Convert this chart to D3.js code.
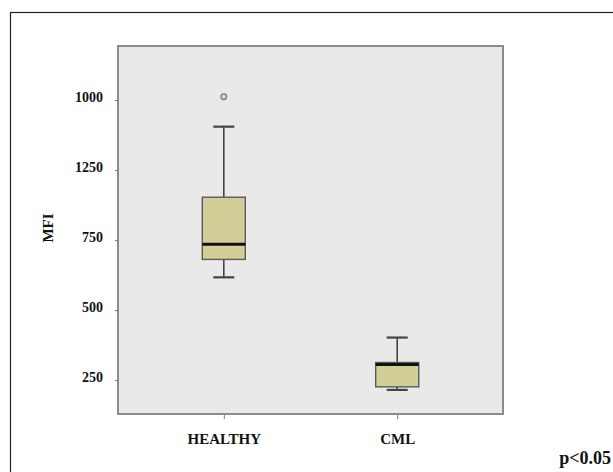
<!DOCTYPE html>
<html>
<head>
<meta charset="utf-8">
<script src="https://cdn.jsdelivr.net/npm/d3@7"></script>
<style>
  body { margin: 0; background: #fff; }
  text { font-family: "Liberation Serif", "DejaVu Serif", serif; font-weight: bold; fill: #111; }
</style>
</head>
<body>
<div id="chart"></div>
<script>
// groups and box summaries (MFI)
var groups = ["HEALTHY", "CML"];
var lowWhisker = [617, 215];
var q1 = [681, 226];
var median = [735, 306];
var q3 = [903, 313];
var highWhisker = [1155, 402];
var outliers = [[1262], []];

// tick positions and the labels printed at them
var yTickValues = [250, 500, 750, 1000, 1250];
var yTickLabels = ["250", "500", "750", "1250", "1000"];

var W = 613, H = 472;
var panel = {left: 118, right: 503, top: 46, bottom: 414};

var svg = d3.select("#chart")
  .append("svg")
    .attr("width", W)
    .attr("height", H);

// outer frame (runs off the right and bottom edges)
svg.append("rect")
  .attr("x", 10.5).attr("y", 12.5)
  .attr("width", 700).attr("height", 500)
  .attr("fill", "none")
  .attr("stroke", "#222")
  .attr("stroke-width", 1.2);

// plot area
svg.append("rect")
  .attr("x", panel.left).attr("y", panel.top)
  .attr("width", panel.right - panel.left)
  .attr("height", panel.bottom - panel.top)
  .attr("fill", "#e9e9e9")
  .attr("stroke", "#8c8c8c")
  .attr("stroke-width", 2);

var x = d3.scalePoint()
  .domain(groups)
  .range([panel.left, panel.right])
  .padding(0.61);

var y = d3.scaleLinear()
  .domain([129, 1443])
  .range([panel.bottom, panel.top]);

// Y axis
var yAxis = svg.append("g")
  .attr("transform", "translate(" + panel.left + ",0)")
  .call(d3.axisLeft(y)
    .tickValues(yTickValues)
    .tickFormat(function(d, i) { return yTickLabels[i]; })
    .tickSize(3)
    .tickPadding(12));
yAxis.select(".domain").remove();
yAxis.selectAll("line").attr("stroke", "#777");
yAxis.selectAll("text")
  .attr("dy", "0.1em")
  .style("font-family", "'Liberation Serif', serif")
  .style("font-weight", "bold")
  .style("font-size", "14px")
  .attr("fill", "#111");

// X axis
var xAxis = svg.append("g")
  .attr("transform", "translate(0," + panel.bottom + ")")
  .call(d3.axisBottom(x).tickSize(4).tickPadding(15));
xAxis.select(".domain").remove();
xAxis.selectAll("line").attr("stroke", "#777").attr("transform", "translate(0,1)");
xAxis.selectAll("text")
  .style("font-family", "'Liberation Serif', serif")
  .style("font-weight", "bold")
  .style("font-size", "15px")
  .attr("fill", "#111");

// Y title
svg.append("text")
  .attr("transform", "translate(53,228) rotate(-90)")
  .attr("text-anchor", "middle")
  .style("font-size", "15px")
  .text("MFI");

// boxes
var boxW = 43, capW = 21;
var rows = groups.map(function(g, i) {
  return {g: g, lo: lowWhisker[i], q1: q1[i], med: median[i], q3: q3[i], hi: highWhisker[i], out: outliers[i]};
});

var box = svg.append("g").selectAll("g")
  .data(rows)
  .enter()
  .append("g");

// whisker stems
box.append("line")
  .attr("x1", function(d) { return x(d.g); })
  .attr("x2", function(d) { return x(d.g); })
  .attr("y1", function(d) { return y(d.hi); })
  .attr("y2", function(d) { return y(d.q3); })
  .attr("stroke", "#444").attr("stroke-width", 1.6);
box.append("line")
  .attr("x1", function(d) { return x(d.g); })
  .attr("x2", function(d) { return x(d.g); })
  .attr("y1", function(d) { return y(d.q1); })
  .attr("y2", function(d) { return y(d.lo); })
  .attr("stroke", "#444").attr("stroke-width", 1.6);

// caps
["hi", "lo"].forEach(function(k) {
  box.append("line")
    .attr("x1", function(d) { return x(d.g) - capW / 2; })
    .attr("x2", function(d) { return x(d.g) + capW / 2; })
    .attr("y1", function(d) { return y(d[k]); })
    .attr("y2", function(d) { return y(d[k]); })
    .attr("stroke", "#444").attr("stroke-width", 2.2);
});

box.append("rect")
  .attr("x", function(d) { return x(d.g) - boxW / 2; })
  .attr("y", function(d) { return y(d.q3); })
  .attr("width", boxW)
  .attr("height", function(d) { return y(d.q1) - y(d.q3); })
  .attr("fill", "#d3ce98")
  .attr("stroke", "#5a5a5a")
  .attr("stroke-width", 1.4);

box.append("line")
  .attr("x1", function(d) { return x(d.g) - boxW / 2; })
  .attr("x2", function(d) { return x(d.g) + boxW / 2; })
  .attr("y1", function(d) { return y(d.med); })
  .attr("y2", function(d) { return y(d.med); })
  .attr("stroke", "#111").attr("stroke-width", 3);

// outliers
box.selectAll("circle")
  .data(function(d) { return d.out.map(function(v) { return {g: d.g, v: v}; }); })
  .enter()
  .append("circle")
    .attr("cx", function(d) { return x(d.g); })
    .attr("cy", function(d) { return y(d.v); })
    .attr("r", 2.8)
    .attr("fill", "#d8d8d8")
    .attr("stroke", "#7a7a7a")
    .attr("stroke-width", 1.3);

// significance note
svg.append("text")
  .attr("x", 611).attr("y", 464)
  .attr("text-anchor", "end")
  .style("font-size", "18px")
  .text("p<0.05");
</script>
</body>
</html>
